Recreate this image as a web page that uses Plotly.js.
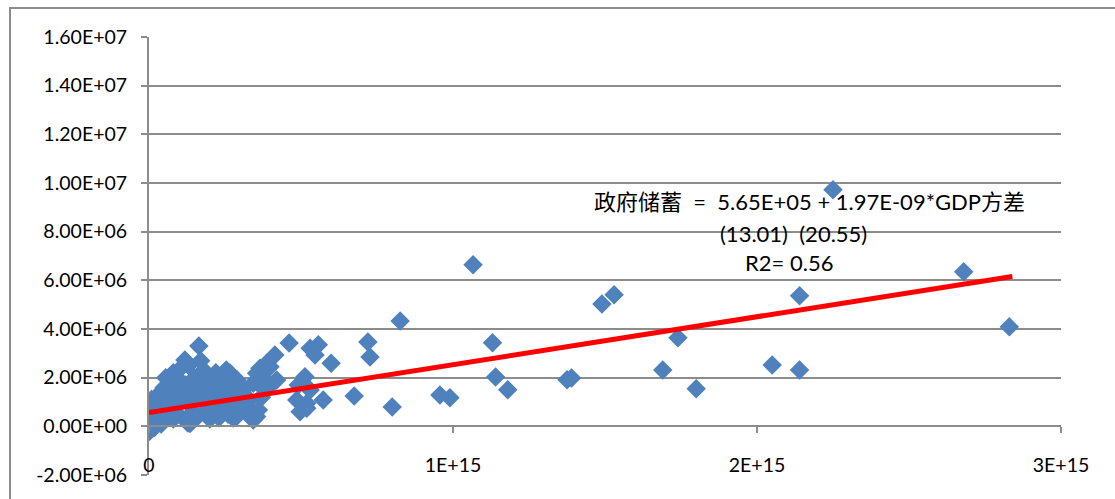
<!DOCTYPE html>
<html>
<head>
<meta charset="utf-8">
<script src="https://cdn.plot.ly/plotly-3.0.1.min.js"></script>
<style>html,body{margin:0;padding:0;background:#fff;}#chart{width:1115px;height:499px;}</style>
</head>
<body>
<div id="chart"></div>
<script>
// GDP variance (x) values, units of 1e15
const gdpVarE15 = [
  0.002,0.003,0.005,0.004,0.006,0.008,0.012,0.015,0.020,0.018,
  0.030,0.035,0.040,0.045,0.050,0.055,0.060,0.040,0.060,0.065,
  0.075,0.080,0.085,0.090,0.095,0.100,0.100,0.080,0.070,0.105,
  0.118,0.130,0.135,0.140,0.150,0.164,0.170,0.120,0.125,0.145,0.155,0.160,0.170,0.128,
  0.180,0.190,0.200,0.210,0.220,0.230,0.240,0.250,0.254,0.260,0.270,0.190,0.200,0.220,0.240,0.260,0.270,0.180,0.230,0.210,
  0.288,0.310,0.330,0.343,0.354,0.365,0.376,0.360,0.343,0.266,0.277,0.266,0.288,0.300,0.320,0.290,0.310,0.330,0.338,0.277,
  0.387,0.414,0.420,0.398,0.461,0.354,0.380,0.370,0.400,
  0.513,0.491,0.530,0.486,0.519,0.497,0.573,0.519,0.530,0.557,0.546,0.599,0.675,
  0.720,0.727,0.800,0.826,0.957,0.990,1.066,1.130,1.140,1.180,
  1.375,1.390,1.490,1.530,1.690,1.740,1.800,2.050,2.140,2.140,2.250,2.680,2.830
];
// Government saving (y) values, units of 1e6
const govSavingE6 = [
  -0.20,0.10,0.35,0.60,0.85,1.10,0.20,0.50,0.80,-0.05,
  1.30,1.00,0.60,0.30,1.60,2.00,1.20,0.10,0.70,0.40,
  1.80,2.20,1.40,0.90,0.50,1.90,1.20,0.30,1.00,2.40,
  2.73,2.50,0.12,1.50,2.00,3.30,2.70,1.70,1.00,0.60,1.20,0.40,1.80,0.14,
  2.30,1.90,1.50,1.10,2.20,1.70,1.30,2.00,2.32,1.60,1.00,0.70,0.30,0.90,0.60,0.50,2.10,1.20,0.35,1.80,
  0.40,0.67,1.09,1.77,2.18,2.39,1.98,0.67,0.26,2.19,1.62,1.08,0.53,1.30,0.90,1.90,1.50,0.45,0.40,0.34,
  2.59,2.93,1.90,2.45,3.42,0.40,1.50,1.20,1.70,
  2.04,1.70,1.49,1.08,0.95,0.60,1.08,0.74,3.21,3.35,2.93,2.59,1.25,
  3.47,2.85,0.79,4.33,1.29,1.17,6.64,3.43,2.03,1.50,
  1.91,1.99,5.03,5.41,2.32,3.64,1.54,2.52,5.37,2.32,9.72,6.35,4.09
];
const fitIntercept = 5.65e5;
const fitSlope = 1.97e-9;
const fitX = [0, 2.84e15];
const yTickVals = [-2e6,0,2e6,4e6,6e6,8e6,1e7,1.2e7,1.4e7,1.6e7];
const yTickText = ['-2.00E+06','0.00E+00','2.00E+06','4.00E+06','6.00E+06','8.00E+06','1.00E+07','1.20E+07','1.40E+07','1.60E+07'];
const xTickVals = [0,1e15,2e15,3e15];
const xTickText = ['0','1E+15','2E+15','3E+15'];
const eqLines = ['政府储蓄  =  5.65E+05 + 1.97E-09*GDP方差','(13.01)  (20.55)','R2= 0.56'];

const xs = gdpVarE15.map(v => v * 1e15);
const ys = govSavingE6.map(v => v * 1e6);
const fitY = fitX.map(x => fitIntercept + fitSlope * x);

const FONT = 'Lato, "Noto Sans CJK SC", sans-serif';
const GRID = '#8c8c8c';
const TICKSIZE = 19.5;
const ANNSIZE = 22;

const traces = [
  {x: xs, y: ys, type: 'scatter', mode: 'markers',
   marker: {symbol: 'diamond', size: 15, color: '#4F81BD', line: {width: 0}},
   hoverinfo: 'x+y', showlegend: false},
  {x: fitX, y: fitY, type: 'scatter', mode: 'lines',
   line: {color: '#FF0000', width: 5}, showlegend: false, hoverinfo: 'skip'}
];

const layout = {
  width: 1115, height: 499,
  margin: {l: 149, r: 54, t: 37, b: 24},
  paper_bgcolor: '#ffffff', plot_bgcolor: '#ffffff',
  font: {family: FONT, size: TICKSIZE, color: '#000'},
  showlegend: false,
  xaxis: {
    range: [0, 3e15], tickvals: xTickVals, ticktext: xTickText,
    showgrid: false, zeroline: false,
    showline: true, linecolor: GRID, linewidth: 2,
    anchor: 'free', position: 2/18,
    ticks: 'outside', ticklen: 6, tickcolor: GRID, tickwidth: 2,
    ticklabelstandoff: 15,
    tickfont: {family: FONT, size: TICKSIZE, color: '#000'}
  },
  yaxis: {
    range: [-2e6, 1.6e7], tickvals: yTickVals, ticktext: yTickText,
    showgrid: true, gridcolor: GRID, gridwidth: 2, zeroline: false,
    showline: true, linecolor: GRID, linewidth: 2,
    ticks: 'outside', ticklen: 6, tickcolor: GRID, tickwidth: 2,
    ticklabelstandoff: 10,
    tickfont: {family: FONT, size: TICKSIZE, color: '#000'}
  },
  shapes: [
    {type: 'rect', xref: 'paper', yref: 'paper',
     x0: (10-149)/912, x1: (1125-149)/912, y0: (475-505)/438, y1: (475-8)/438,
     line: {color: '#8c8c8c', width: 2}, fillcolor: 'rgba(0,0,0,0)', layer: 'below'}
  ],
  annotations: [
    {text: eqLines[0], xref: 'paper', yref: 'paper', x: (809-149)/912, y: (475-202)/438,
     xanchor: 'center', yanchor: 'middle', showarrow: false, font: {family: FONT, size: ANNSIZE, color: '#000'}},
    {text: eqLines[1], xref: 'paper', yref: 'paper', x: (793-149)/912, y: (475-233)/438,
     xanchor: 'center', yanchor: 'middle', showarrow: false, font: {family: FONT, size: ANNSIZE, color: '#000'}},
    {text: eqLines[2], xref: 'paper', yref: 'paper', x: (788.5-149)/912, y: (475-262)/438,
     xanchor: 'center', yanchor: 'middle', showarrow: false, font: {family: FONT, size: ANNSIZE, color: '#000'}}
  ]
};

Plotly.newPlot('chart', traces, layout, {displayModeBar: false, staticPlot: true});
</script>
</body>
</html>
